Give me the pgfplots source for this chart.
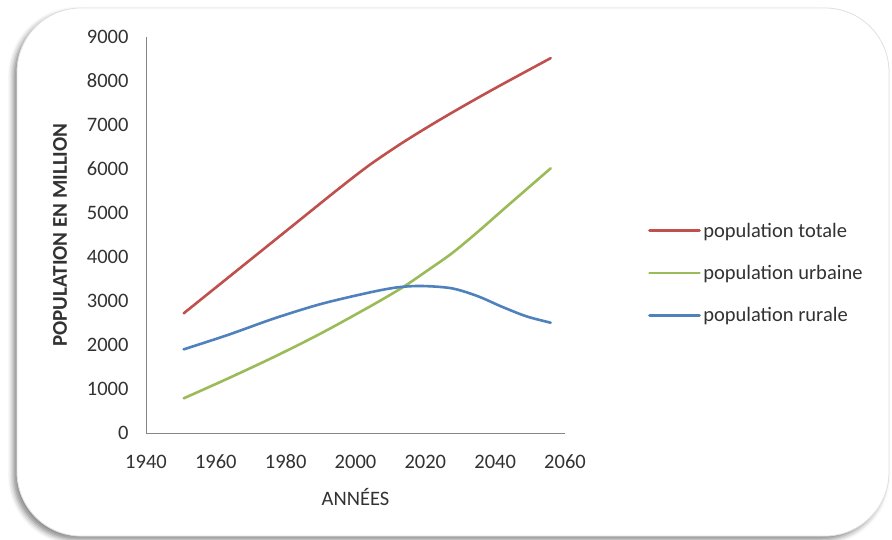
\documentclass[border=0pt]{standalone}
\usepackage{fontspec}
\setmainfont{Carlito}
\usepackage{pgfplots}
\pgfplotsset{compat=1.18}
\usetikzlibrary{shadows.blur}
\definecolor{totale}{RGB}{192,80,77}
\definecolor{urbaine}{RGB}{155,187,89}
\definecolor{rurale}{RGB}{79,129,189}
\definecolor{axisgray}{RGB}{134,134,134}
\definecolor{txt}{RGB}{50,50,50}

\begin{document}
\begin{tikzpicture}
\path[use as bounding box] (0pt,0pt) rectangle (892pt,539pt);
% rounded card with a soft shadow on the lower left
\fill[white, rounded corners=64pt,
  blur shadow={shadow xshift=-4pt, shadow yshift=-4pt, shadow blur radius=5pt, shadow opacity=45}]
  (17pt,3pt) rectangle (889pt,531pt);
\draw[black!12, line width=0.8pt, rounded corners=64pt] (17pt,3pt) rectangle (889pt,531pt);
\begin{axis}[
  at={(146pt,106pt)}, anchor=south west,
  scale only axis, width=419pt, height=396pt,
  xmin=1940, xmax=2060, ymin=0, ymax=9000,
  xtick={1940,1960,...,2060}, ytick={0,1000,...,9000},
  axis lines*=left,
  axis line style={axisgray, line width=0.9pt, -},
  major tick length=0pt,
  scaled ticks=false,
  /pgf/number format/1000 sep={},
  /pgf/number format/assume math mode=true,
  tick label style={font=\fontsize{20.5}{24}\selectfont, text=txt},
  xticklabel style={anchor=base, yshift=-35.6pt},
  yticklabel style={xshift=-14pt},
  xlabel={ANNÉES},
  ylabel={POPULATION EN MILLION},
  label style={font=\fontsize{20.5}{24}\selectfont, text=txt},
  xlabel style={at={(axis description cs:0.5,-0.1616)}, anchor=center},
  ylabel style={at={(axis description cs:-0.2053,0.5)}, anchor=center,
    font=\fontsize{21}{24}\selectfont\bfseries},
  legend style={at={(axis description cs:1,0.5)}, anchor=west,
    xshift=83pt, yshift=-38pt, draw=none, fill=none, inner sep=0pt,
    row sep=21.5pt,
    nodes={inner sep=2.5pt, anchor=west, text=txt, font=\fontsize{20.5}{24}\selectfont}},
  legend cell align=left,
  legend image code/.code={\draw[#1, line width=2.6pt] (0pt,0pt) -- (50pt,0pt);},
  every axis plot/.append style={line width=2.6pt, line cap=round, smooth, no markers},
]
\addplot[totale] coordinates {
  (1950.8,2720) (1965,3626) (1980,4583) (1995,5540) (2004,6090)
  (2013.3,6590) (2022.9,7060) (2032,7480) (2041,7880) (2055.9,8520)};
\addlegendentry{population totale}
\addplot[urbaine] coordinates {
  (1950.8,788) (1963.5,1240) (1976.8,1734) (1990,2260) (2003.8,2860)
  (2013.3,3300) (2020,3660) (2027.6,4084) (2035,4570) (2041.9,5050)
  (2049,5540) (2055.9,6015)};
\addlegendentry{population urbaine}
\addplot[rurale] coordinates {
  (1950.8,1901) (1963.5,2230) (1976.8,2606) (1990,2930) (2003.8,3190)
  (2012,3310) (2019,3341) (2027.6,3288) (2035,3110) (2041.9,2871)
  (2049,2650) (2055.9,2507)};
\addlegendentry{population rurale}
\end{axis}
\end{tikzpicture}
\end{document}
